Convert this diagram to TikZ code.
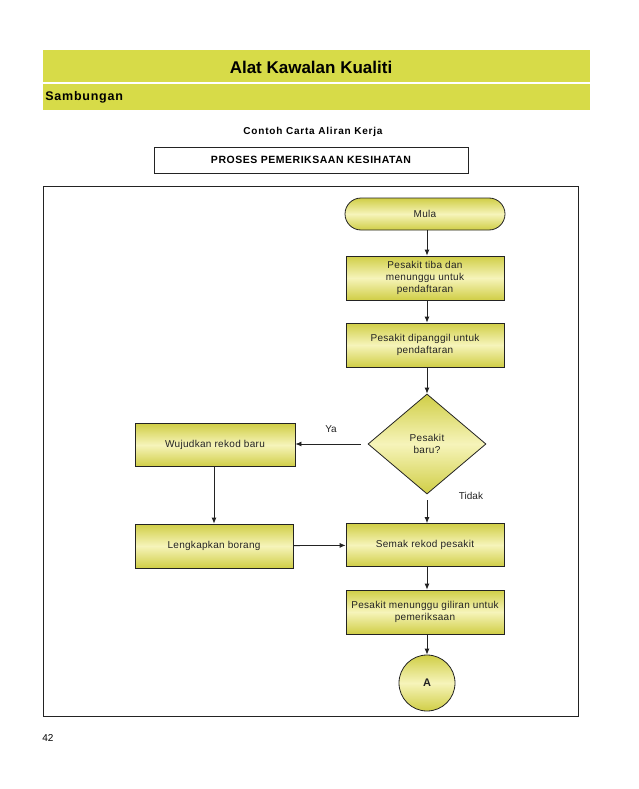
\documentclass[tikz,border=0pt]{standalone}
\usepackage{fontspec}
\setmainfont{Liberation Sans}
\usepackage{tikz}
\usetikzlibrary{arrows.meta,shapes.geometric}

\definecolor{hdr}{RGB}{215,219,72}
\definecolor{boxdark}{RGB}{208,206,70}
\definecolor{boxlight}{RGB}{246,244,186}
\definecolor{ink}{RGB}{35,35,35}

\begin{document}
\begin{tikzpicture}[x=1pt,y=-1pt,line width=0.8pt,
  stepbox/.style={draw=ink,top color=boxdark,bottom color=boxdark,middle color=boxlight,
    minimum width=158pt,minimum height=44pt,inner sep=1pt,align=center,
    font=\fontsize{10}{12}\selectfont\addfontfeature{LetterSpace=3},text=ink},
  flow/.style={draw=ink,-{Latex[length=6pt,width=5pt]}},
  lbl/.style={font=\fontsize{10}{12}\selectfont,text=ink}]
\useasboundingbox (0,0) rectangle (638,789);

% header bands
\fill[hdr] (43,50) rectangle (590,82);
\fill[hdr] (43,84) rectangle (590,110);
\node (title) at (311,67) {\fontsize{17}{19}\selectfont\bfseries Alat Kawalan Kualiti};
\node [right,inner sep=0] (sub) at (45,97) {\fontsize{12.5}{14}\selectfont\bfseries\addfontfeature{LetterSpace=6} Sambungan};

\node (contoh) at (313,132) {\fontsize{10}{12}\selectfont\bfseries\addfontfeature{LetterSpace=8} Contoh Carta Aliran Kerja};
\node [draw=ink,minimum width=314pt,minimum height=26pt] (proses) at (311,160)
  {\fontsize{10.5}{12}\selectfont\bfseries\addfontfeature{LetterSpace=5} PROSES PEMERIKSAAN KESIHATAN};

% frame
\draw[ink] (43,186) rectangle (578,716);

% flow chart
\node [stepbox,rounded corners=16pt,minimum width=160pt,minimum height=32pt] (mula) at (425,214) {Mula};
\node [stepbox] (tiba) at (425,278) {Pesakit tiba dan\\menunggu untuk\\pendaftaran};
\node [stepbox] (panggil) at (425,345) {Pesakit dipanggil untuk\\pendaftaran};
\node [stepbox,diamond,minimum width=118pt,minimum height=100pt,inner sep=0] (baru) at (427,444) {Pesakit\\baru?};
\node [stepbox,minimum width=160pt,minimum height=43pt] (wujud) at (215,445) {Wujudkan rekod baru};
\node [stepbox] (borang) at (214,546) {Lengkapkan borang};
\node [stepbox,minimum height=43pt] (semak) at (425,545) {Semak rekod pesakit};
\node [stepbox] (giliran) at (425,612) {Pesakit menunggu giliran untuk\\pemeriksaan};
\node [stepbox,circle,minimum size=56pt,inner sep=0] (a) at (427,683)
  {\fontsize{11}{12}\selectfont\bfseries A};

\coordinate (yastart) at ([xshift=-7pt]baru.west);
\coordinate (tidakend) at ([yshift=-6pt]baru.south);

\draw[flow] (mula.south -| baru) -- (tiba.north -| baru);
\draw[flow] (tiba.south -| baru) -- (panggil.north -| baru);
\draw[flow] (panggil.south -| baru) -- (baru.north);
\draw[flow] (yastart) -- (wujud.east |- yastart);
\draw[flow] (tidakend) -- (semak.north -| baru);
\draw[flow] (wujud.south -| borang) -- (borang.north);
\draw[flow] (borang) -- (semak);
\draw[flow] (semak.south -| a) -- (giliran.north -| a);
\draw[flow] (giliran.south -| a) -- (a.north);

\node [lbl] (ya) at (331,429) {Ya};
\node [lbl] (tidak) at (471,496) {Tidak};

\node [right,inner sep=0] (page) at (42,738) {\fontsize{10}{12}\selectfont 42};
\end{tikzpicture}
\end{document}
